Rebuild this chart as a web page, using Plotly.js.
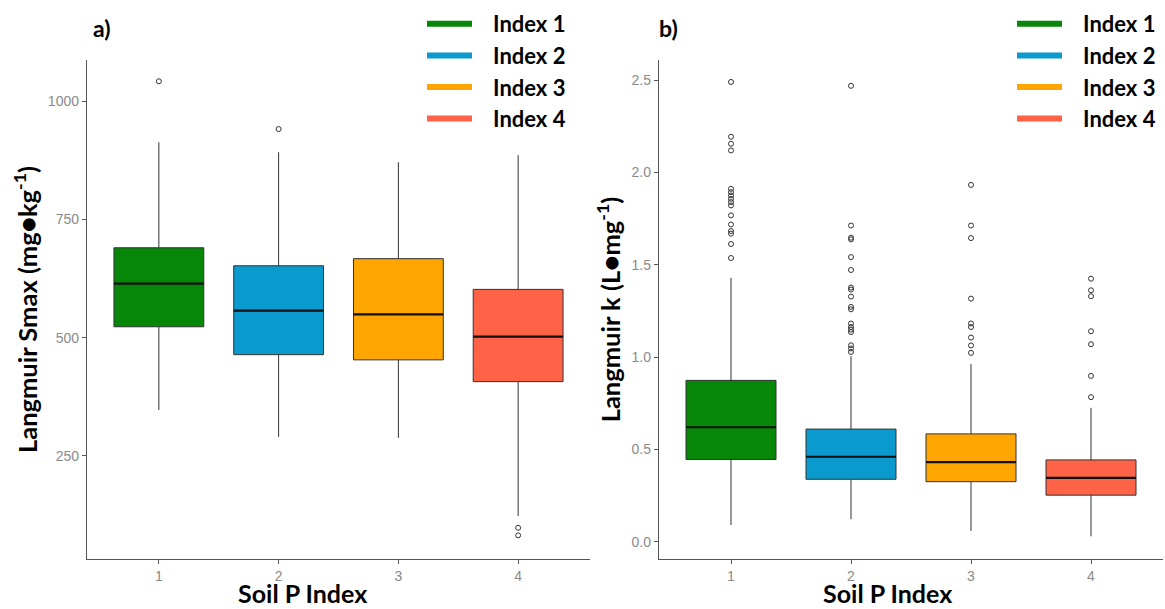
<!DOCTYPE html>
<html>
<head>
<meta charset="utf-8">
<script src="https://cdn.plot.ly/plotly-3.0.1.min.js"></script>
<style>html,body{margin:0;padding:0;background:#fff;}#chart{width:1165px;height:609px;}</style>
</head>
<body>
<div id="chart"></div>
<script>
// ---- Data ----
const categories = [1, 2, 3, 4];
const seriesNames = ["Index 1", "Index 2", "Index 3", "Index 4"];
const colors = ["#078707", "#0a9acd", "#ffa500", "#ff6347"];

// Panel a) Langmuir Smax
const smaxLower  = [347, 290, 288, 123];
const smaxQ1     = [523, 464, 453, 407];
const smaxMedian = [614, 557, 549, 502];
const smaxQ3     = [690, 652, 667, 602];
const smaxUpper  = [913, 892, 871, 886];
const smaxOutliers = [
  [1042],
  [941],
  [],
  [98, 82]
];

// Panel b) Langmuir k
const kLower  = [0.09, 0.122, 0.058, 0.029];
const kQ1     = [0.445, 0.338, 0.325, 0.252];
const kMedian = [0.62, 0.46, 0.431, 0.346];
const kQ3     = [0.874, 0.61, 0.584, 0.443];
const kUpper  = [1.43, 1.005, 0.962, 0.725];
const kOutliers = [
  [2.491, 2.194, 2.156, 2.120, 1.912, 1.894, 1.876, 1.858, 1.840, 1.822, 1.768, 1.719, 1.683, 1.669, 1.613, 1.537],
  [2.47, 1.713, 1.647, 1.638, 1.542, 1.472, 1.377, 1.366, 1.328, 1.272, 1.259, 1.182, 1.163, 1.149, 1.136, 1.064, 1.047, 1.028],
  [1.933, 1.713, 1.645, 1.317, 1.182, 1.163, 1.106, 1.063, 1.023],
  [1.425, 1.362, 1.330, 1.140, 1.070, 0.898, 0.783]
];

const xTitle = "Soil P Index";
const yTitleA = "Langmuir Smax (mg●kg<sup>-1</sup>)";
const yTitleB = "Langmuir k (L●mg<sup>-1</sup>)";

// ---- Styles ----
const BOX_WIDTH = 0.75;
const FONT = "Lato, 'Open Sans', 'DejaVu Sans', sans-serif";
const TICKFONT = "'Liberation Sans', Arial, sans-serif";

function buildPanel(xa, ya, lower, q1, med, q3, upper, outliers, legendName) {
  const traces = [];
  categories.forEach((c, i) => {
    traces.push({
      type: "box", xaxis: xa, yaxis: ya,
      x: [c], q1: [q1[i]], median: [med[i]], q3: [q3[i]],
      lowerfence: [lower[i]], upperfence: [upper[i]],
      width: BOX_WIDTH, whiskerwidth: 0,
      fillcolor: colors[i],
      line: { color: "#333333", width: 1 },
      boxpoints: false, showlegend: false, hoverinfo: "skip"
    });
    // thicker median line
    traces.push({
      type: "scatter", mode: "lines", xaxis: xa, yaxis: ya,
      x: [c - BOX_WIDTH / 2, c + BOX_WIDTH / 2], y: [med[i], med[i]],
      line: { color: "#111111", width: 2.2 },
      showlegend: false, hoverinfo: "skip"
    });
    if (outliers[i].length) {
      traces.push({
        type: "scatter", mode: "markers", xaxis: xa, yaxis: ya,
        x: outliers[i].map(() => c), y: outliers[i],
        marker: { symbol: "circle-open", size: 5, color: "#333333", line: { width: 1 } },
        showlegend: false, hoverinfo: "skip"
      });
    }
  });
  // legend entries (thick coloured lines)
  seriesNames.forEach((n, i) => {
    traces.push({
      type: "scatter", mode: "lines", xaxis: xa, yaxis: ya,
      x: [null], y: [null], name: "\u00A0\u00A0\u00A0" + n,
      line: { color: colors[i], width: 6 },
      legend: legendName, showlegend: true, hoverinfo: "skip"
    });
  });
  return traces;
}

const data = [].concat(
  buildPanel("x", "y", smaxLower, smaxQ1, smaxMedian, smaxQ3, smaxUpper, smaxOutliers, "legend"),
  buildPanel("x2", "y2", kLower, kQ1, kMedian, kQ3, kUpper, kOutliers, "legend2")
);

const axisCommon = {
  showgrid: false, zeroline: false, showline: true,
  linecolor: "#555555", linewidth: 1.2,
  ticks: "outside", ticklen: 4, tickcolor: "#555555", tickwidth: 1,
  tickfont: { family: TICKFONT, size: 14, color: "#8a8a8a" },
  automargin: false
};
const titleFont = { family: FONT, size: 25.5, color: "#000000", weight: "bold" };
const xTitleFont = { family: FONT, size: 25, color: "#000000", weight: "bold" };
const labelFont = { family: FONT, size: 23, color: "#000000", weight: "bold" };
const legendCommon = {
  font: { family: FONT, size: 22, color: "#000000", weight: "bold" },
  bgcolor: "rgba(0,0,0,0)", borderwidth: 0,
  xanchor: "left", yanchor: "top", itemwidth: 45,
  tracegroupgap: 0
};

const layout = {
  width: 1165, height: 609,
  margin: { l: 0, r: 0, t: 0, b: 0 },
  paper_bgcolor: "#ffffff", plot_bgcolor: "#ffffff",
  showlegend: true,
  xaxis: Object.assign({}, axisCommon, {
    domain: [87 / 1165, 590 / 1165], anchor: "y",
    range: [0.4, 4.6], tickvals: categories, ticktext: categories.map(String)
  }),
  yaxis: Object.assign({}, axisCommon, {
    domain: [1 - 559 / 609, 1 - 60 / 609], anchor: "x",
    range: [32, 1087], tickvals: [250, 500, 750, 1000],
    title: { text: yTitleA, font: titleFont, standoff: 3 }
  }),
  xaxis2: Object.assign({}, axisCommon, {
    domain: [659 / 1165, 1163 / 1165], anchor: "y2",
    range: [0.4, 4.6], tickvals: categories, ticktext: categories.map(String)
  }),
  yaxis2: Object.assign({}, axisCommon, {
    domain: [1 - 559 / 609, 1 - 60 / 609], anchor: "x2",
    range: [-0.094, 2.61], tickvals: [0, 0.5, 1, 1.5, 2, 2.5],
    ticktext: ["0.0", "0.5", "1.0", "1.5", "2.0", "2.5"],
    title: { text: yTitleB, font: titleFont, standoff: 3 }
  }),
  legend: Object.assign({}, legendCommon, { x: 422 / 1165, y: 1 - 3 / 609 }),
  legend2: Object.assign({}, legendCommon, { x: 1012 / 1165, y: 1 - 3 / 609 }),
  annotations: [
    { text: "a)", xref: "paper", yref: "paper", x: 91 / 1165, y: 1 - 28 / 609,
      xanchor: "left", yanchor: "middle", showarrow: false, font: labelFont },
    { text: "b)", xref: "paper", yref: "paper", x: 657 / 1165, y: 1 - 28 / 609,
      xanchor: "left", yanchor: "middle", showarrow: false, font: labelFont },
    { text: xTitle, xref: "paper", yref: "paper", x: 302 / 1165, y: 0,
      xanchor: "center", yanchor: "bottom", borderpad: 0, yshift: 0,
      showarrow: false, font: xTitleFont },
    { text: xTitle, xref: "paper", yref: "paper", x: 887 / 1165, y: 0,
      xanchor: "center", yanchor: "bottom", borderpad: 0, yshift: 0,
      showarrow: false, font: xTitleFont }
  ]
};

Plotly.newPlot("chart", data, layout, { displayModeBar: false, staticPlot: true });
</script>
</body>
</html>
